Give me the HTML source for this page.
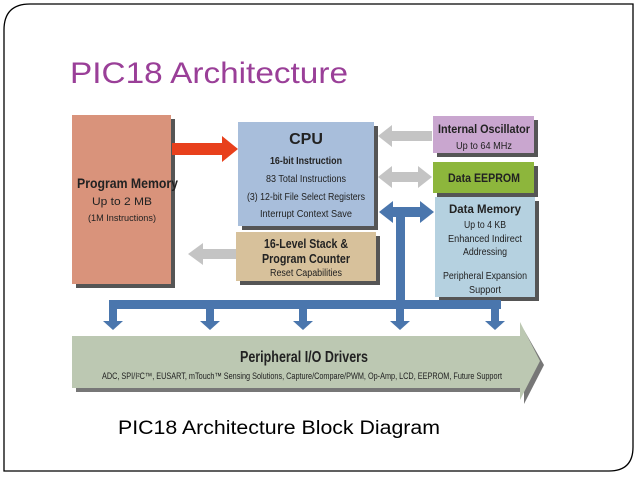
<!DOCTYPE html>
<html><head><style>
body{margin:0;background:#fff;}
svg{display:block;font-family:"Liberation Sans",sans-serif;}
</style></head><body>
<svg width="638" height="479" viewBox="0 0 638 479">
<path d="M30,4 H633 V447 Q633,471 609,471 H4 V30 Q4,4 30,4 Z" fill="none" stroke="#000" stroke-width="1.3"/>
<text x="70" y="83" font-size="30" fill="#9a3f98" textLength="278" lengthAdjust="spacingAndGlyphs">PIC18 Architecture</text>

<!-- shadows -->
<rect x="76" y="119" width="99" height="169" fill="#555"/>
<rect x="242" y="126" width="136" height="104" fill="#555"/>
<rect x="437" y="120" width="101" height="37" fill="#555"/>
<rect x="437" y="166" width="101" height="31" fill="#555"/>
<rect x="439" y="201" width="100" height="100" fill="#555"/>
<rect x="240" y="236" width="140" height="49" fill="#555"/>

<rect x="72" y="115" width="99" height="169" fill="#d9937b"/>
<text x="77" y="188" font-weight="bold" font-size="14" fill="#222" textLength="101" lengthAdjust="spacingAndGlyphs">Program Memory</text>
<text x="122" y="205" text-anchor="middle" font-size="11" fill="#222" textLength="60" lengthAdjust="spacingAndGlyphs">Up to 2 MB</text>
<text x="122" y="221" text-anchor="middle" font-size="9" fill="#222" textLength="68" lengthAdjust="spacingAndGlyphs">(1M Instructions)</text>

<rect x="238" y="122" width="136" height="104" fill="#a8bedb"/>
<text text-anchor="middle" fill="#222"><tspan x="306" y="144" font-size="16" font-weight="bold">CPU</tspan></text>
<text x="306" y="164" text-anchor="middle" font-size="10" font-weight="bold" fill="#222" textLength="72" lengthAdjust="spacingAndGlyphs">16-bit Instruction</text>
<text x="306" y="182" text-anchor="middle" font-size="10" fill="#222" textLength="80" lengthAdjust="spacingAndGlyphs">83 Total Instructions</text>
<text x="306" y="200" text-anchor="middle" font-size="10" fill="#222" textLength="118" lengthAdjust="spacingAndGlyphs">(3) 12-bit File Select Registers</text>
<text x="306" y="217" text-anchor="middle" font-size="10" fill="#222" textLength="92" lengthAdjust="spacingAndGlyphs">Interrupt Context Save</text>

<rect x="433" y="116" width="101" height="37" fill="#c9a6cf"/>
<text x="484" y="133" text-anchor="middle" font-size="12" font-weight="bold" fill="#222" textLength="92" lengthAdjust="spacingAndGlyphs">Internal Oscillator</text>
<text x="484" y="149" text-anchor="middle" font-size="10" fill="#222" textLength="56" lengthAdjust="spacingAndGlyphs">Up to 64 MHz</text>

<rect x="433" y="162" width="101" height="31" fill="#8db63c"/>
<text x="484" y="182" text-anchor="middle" font-size="12" font-weight="bold" fill="#222" textLength="72" lengthAdjust="spacingAndGlyphs">Data EEPROM</text>

<rect x="435" y="197" width="100" height="100" fill="#b5d1e0"/>
<text x="485" y="213" text-anchor="middle" font-size="12" font-weight="bold" fill="#222" textLength="72" lengthAdjust="spacingAndGlyphs">Data Memory</text>
<text x="485" y="228" text-anchor="middle" font-size="10" fill="#222" textLength="42" lengthAdjust="spacingAndGlyphs">Up to 4 KB</text>
<text x="485" y="242" text-anchor="middle" font-size="10" fill="#222" textLength="74" lengthAdjust="spacingAndGlyphs">Enhanced Indirect</text>
<text x="485" y="255" text-anchor="middle" font-size="10" fill="#222" textLength="44" lengthAdjust="spacingAndGlyphs">Addressing</text>
<text x="485" y="279" text-anchor="middle" font-size="10" fill="#222" textLength="84" lengthAdjust="spacingAndGlyphs">Peripheral Expansion</text>
<text x="485" y="293" text-anchor="middle" font-size="10" fill="#222" textLength="32" lengthAdjust="spacingAndGlyphs">Support</text>

<rect x="236" y="232" width="140" height="49" fill="#d7c19b"/>
<text x="306" y="248" text-anchor="middle" font-size="13" font-weight="bold" fill="#222" textLength="84" lengthAdjust="spacingAndGlyphs">16-Level Stack &amp;</text>
<text x="306" y="263" text-anchor="middle" font-size="13" font-weight="bold" fill="#222" textLength="88" lengthAdjust="spacingAndGlyphs">Program Counter</text>
<text x="306" y="276" text-anchor="middle" font-size="10" fill="#222" textLength="72" lengthAdjust="spacingAndGlyphs">Reset Capabilities</text>

<!-- red arrow -->
<polygon points="172,143 222,143 222,136 238,149 222,162 222,155 172,155" fill="#e8401c"/>
<!-- gray arrows -->
<polygon points="432,131 392,131 392,125 378,136 392,147 392,141 432,141" fill="#c4c4c4"/>
<polygon points="378,177 392,166 392,172 418,172 418,166 432,177 418,188 418,182 392,182 392,188" fill="#c4c4c4"/>
<polygon points="236,249 203,249 203,243 188,254 203,265 203,259 236,259" fill="#c4c4c4"/>
<!-- blue bus -->
<g fill="#4a76ad">
<polygon points="379,212 393,201 393,207 420,207 420,201 434,212 420,223 420,217 393,217 393,223"/>
<rect x="396" y="212" width="9" height="92"/>
<rect x="109" y="300" width="392" height="9"/>
<polygon points="109,309 117,309 117,321 123,321 113,330 103,321 109,321"/>
<polygon points="206,309 214,309 214,321 220,321 210,330 200,321 206,321"/>
<polygon points="299,309 307,309 307,321 313,321 303,330 293,321 299,321"/>
<polygon points="396,309 404,309 404,321 410,321 400,330 390,321 396,321"/>
<polygon points="491,309 499,309 499,321 505,321 495,330 485,321 491,321"/>
</g>
<!-- big arrow -->
<polygon points="76,340 524,340 524,330 544,365 524,404 524,392 76,392" fill="#777"/>
<polygon points="72,336 520,336 520,322 540,361 520,400 520,388 72,388" fill="#bcc8b2"/>
<text x="304" y="362" text-anchor="middle" font-size="16" font-weight="bold" fill="#222" textLength="128" lengthAdjust="spacingAndGlyphs">Peripheral I/O Drivers</text>
<text x="302" y="379" text-anchor="middle" font-size="9" fill="#222" textLength="400" lengthAdjust="spacingAndGlyphs">ADC, SPI/I²C™, EUSART, mTouch™ Sensing Solutions, Capture/Compare/PWM, Op-Amp, LCD, EEPROM, Future Support</text>

<text x="118" y="434" font-size="19" fill="#000" textLength="322" lengthAdjust="spacingAndGlyphs">PIC18 Architecture Block Diagram</text>
</svg>
</body></html>
